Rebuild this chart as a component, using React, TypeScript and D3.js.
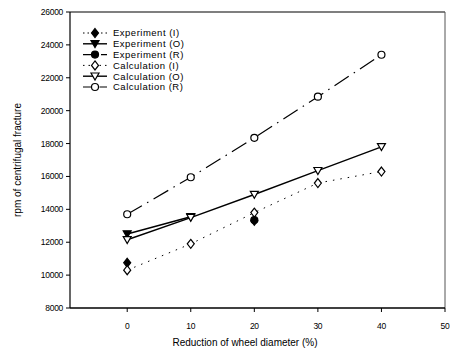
import React from 'react';
import * as d3 from 'd3';

// reduction of wheel diameter (%)
const xCalc = [0, 10, 20, 30, 40];
const calcI = [10300, 11900, 13800, 15600, 16300];
const calcO = [12150, 13500, 14900, 16350, 17800];
const calcR = [13700, 15950, 18350, 20850, 23400];
const expIx = [0, 20];
const expI = [10750, 13300];
const expOx = [0, 10];
const expO = [12500, 13550];
const expRx = [20];
const expR = [13350];

const yTicks = [8000, 10000, 12000, 14000, 16000, 18000, 20000, 22000, 24000, 26000];
const xTicks = [0, 10, 20, 30, 40, 50];
const legendLabels = ['Experiment (I)', 'Experiment (O)', 'Experiment (R)', 'Calculation (I)', 'Calculation (O)', 'Calculation (R)'];

const W = 456;
const H = 361;
const margin = { top: 12, right: 11, bottom: 53, left: 70 };
const font = 'Arial, "Liberation Sans", sans-serif';

type Marker = 'diamond' | 'triangle' | 'circle';

const Sym = ({ x, y, kind, filled }: { x: number; y: number; kind: Marker; filled: boolean }) => {
  const fill = filled ? '#000' : '#fff';
  if (kind === 'circle') return <circle cx={x} cy={y} r={3.5} fill={fill} stroke="#000" strokeWidth={1.2} />;
  if (kind === 'diamond')
    return <path d={`M${x},${y - 4.5}L${x + 3.5},${y}L${x},${y + 4.5}L${x - 3.5},${y}Z`} fill={fill} stroke="#000" strokeWidth={1.2} />;
  return <path d={`M${x - 4},${y - 3.2}L${x + 4},${y - 3.2}L${x},${y + 3.8}Z`} fill={fill} stroke="#000" strokeWidth={1.2} />;
};

export default function App() {
  const x = d3.scaleLinear().domain([-9, 50]).range([margin.left, W - margin.right]);
  const y = d3.scaleLinear().domain([8000, 26000]).range([H - margin.bottom, margin.top]);
  const line = d3.line<[number, number]>().x(d => x(d[0])).y(d => y(d[1]));

  const series = [
    { xs: expIx, ys: expI, kind: 'diamond' as Marker, filled: true, dash: '1.5,4', width: 1, line: false },
    { xs: expOx, ys: expO, kind: 'triangle' as Marker, filled: true, dash: '', width: 1.4, line: true },
    { xs: expRx, ys: expR, kind: 'circle' as Marker, filled: true, dash: '', width: 1.2, line: false },
    { xs: xCalc, ys: calcI, kind: 'diamond' as Marker, filled: false, dash: '1.5,6', width: 1, line: true },
    { xs: xCalc, ys: calcO, kind: 'triangle' as Marker, filled: false, dash: '', width: 1.4, line: true },
    { xs: xCalc, ys: calcR, kind: 'circle' as Marker, filled: false, dash: '17,6,1.5,6', width: 1.2, line: true },
  ];

  const legendDash = ['1.5,3', '', '9,3,2,4', '1.5,4', '', '9,3,1.5,3'];
  const legX = 95;
  const legY0 = 33;
  const legStep = 10.8;

  const x0 = margin.left;
  const x1 = W - margin.right;
  const y0 = H - margin.bottom;
  const y1 = margin.top;

  return (
    <div style={{ position: 'absolute', left: 0, top: 0 }}>
      <svg width={W} height={H} style={{ display: 'block', background: '#fff' }}>
        {/* frame */}
        <line x1={x0} x2={x1} y1={y1} y2={y1} stroke="#000" strokeWidth={1.2} />
        <line x1={x1} x2={x1} y1={y1} y2={y0} stroke="#555" strokeWidth={1} />
        <line x1={x0} x2={x0} y1={y1} y2={y0} stroke="#000" strokeWidth={1.2} />
        <line x1={x0} x2={x1} y1={y0} y2={y0} stroke="#000" strokeWidth={1.4} />

        {/* y axis */}
        {yTicks.map(t => (
          <g key={t}>
            <line x1={x0 - 4} x2={x0} y1={y(t)} y2={y(t)} stroke="#000" strokeWidth={1} />
            <text x={x0 - 7} y={y(t)} dy="0.35em" textAnchor="end" fontFamily={font} fontSize={8.5} letterSpacing={-0.3}>
              {t}
            </text>
          </g>
        ))}
        {/* x axis */}
        {xTicks.map(t => (
          <g key={t}>
            <line x1={x(t)} x2={x(t)} y1={y0} y2={y0 + 4} stroke="#000" strokeWidth={1} />
            <text x={x(t)} y={y0 + 21} textAnchor="middle" fontFamily={font} fontSize={8.5} letterSpacing={-0.3}>
              {t}
            </text>
          </g>
        ))}

        <text x={245} y={H - 15} textAnchor="middle" fontFamily={font} fontSize={10}>
          Reduction of wheel diameter (%)
        </text>
        <text transform={`translate(21,${(y0 + y1) / 2}) rotate(-90)`} textAnchor="middle" fontFamily={font} fontSize={10}>
          rpm of centrifugal fracture
        </text>

        {/* lines */}
        {series.map((s, i) =>
          s.line ? (
            <path
              key={'l' + i}
              d={line(s.xs.map((v, j) => [v, s.ys[j]] as [number, number])) || ''}
              fill="none"
              stroke="#000"
              strokeWidth={s.width}
              strokeDasharray={s.dash || undefined}
            />
          ) : null
        )}
        {/* markers */}
        {series.map((s, i) =>
          s.xs.map((v, j) => <Sym key={'m' + i + '-' + j} x={x(v)} y={y(s.ys[j])} kind={s.kind} filled={s.filled} />)
        )}

        {/* legend */}
        {legendLabels.map((lab, i) => {
          const ly = legY0 + i * legStep;
          const s = series[i];
          return (
            <g key={lab}>
              <line x1={legX - 12} x2={legX + 12} y1={ly} y2={ly} stroke="#000" strokeWidth={s.width} strokeDasharray={legendDash[i] || undefined} />
              <Sym x={legX} y={ly} kind={s.kind} filled={s.filled} />
              <text x={legX + 18} y={ly} dy="0.35em" fontFamily={font} fontSize={9.5} letterSpacing={0.5}>
                {lab}
              </text>
            </g>
          );
        })}
      </svg>
    </div>
  );
}
